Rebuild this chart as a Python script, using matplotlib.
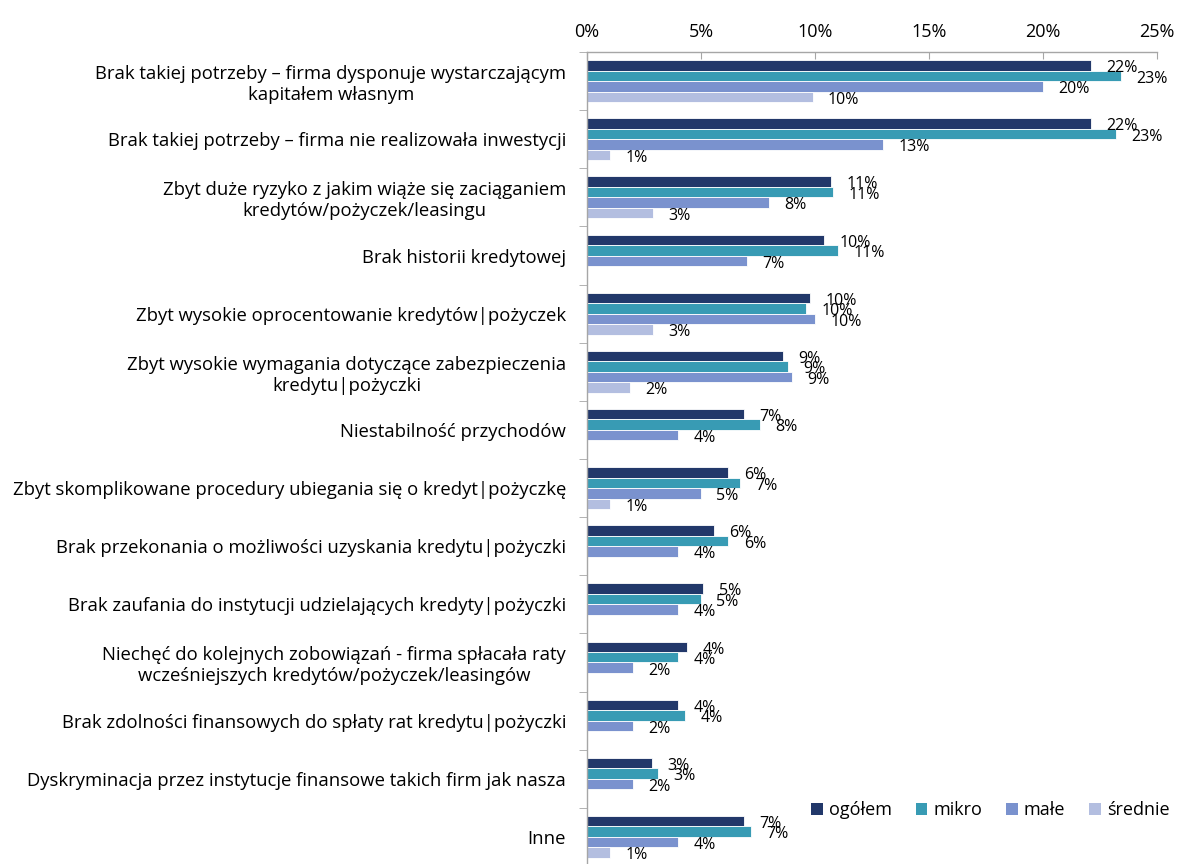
import numpy as np
import matplotlib
matplotlib.use("Agg")
import matplotlib.pyplot as plt
from matplotlib.patches import Patch

plt.rcParams['font.family'] = ['Open Sans', 'DejaVu Sans']

categories = [
    "Brak takiej potrzeby – firma dysponuje wystarczającym\nkapitałem własnym",
    "Brak takiej potrzeby – firma nie realizowała inwestycji",
    "Zbyt duże ryzyko z jakim wiąże się zaciąganiem\nkredytów/pożyczek/leasingu",
    "Brak historii kredytowej",
    "Zbyt wysokie oprocentowanie kredytów|pożyczek",
    "Zbyt wysokie wymagania dotyczące zabezpieczenia\nkredytu|pożyczki",
    "Niestabilność przychodów",
    "Zbyt skomplikowane procedury ubiegania się o kredyt|pożyczkę",
    "Brak przekonania o możliwości uzyskania kredytu|pożyczki",
    "Brak zaufania do instytucji udzielających kredyty|pożyczki",
    "Niechęć do kolejnych zobowiązań - firma spłacała raty\nwcześniejszych kredytów/pożyczek/leasingów",
    "Brak zdolności finansowych do spłaty rat kredytu|pożyczki",
    "Dyskryminacja przez instytucje finansowe takich firm jak nasza",
    "Inne",
]

series_names = ["ogółem", "mikro", "małe", "średnie"]
ogolem  = [22.1, 22.1, 10.7, 10.4, 9.8, 8.6, 6.9, 6.2, 5.55, 5.1, 4.4, 4.0, 2.85, 6.9]
mikro   = [23.4, 23.2, 10.8, 11.0, 9.6, 8.8, 7.6, 6.7, 6.2, 5.0, 4.0, 4.3, 3.1, 7.2]
male    = [20.0, 13.0, 8.0, 7.0, 10.0, 9.0, 4.0, 5.0, 4.0, 4.0, 2.0, 2.0, 2.0, 4.0]
srednie = [9.9, 1.0, 2.9, np.nan, 2.9, 1.9, np.nan, 1.0, np.nan, np.nan, np.nan, np.nan, np.nan, 1.0]

colors = ["#22386A", "#389BB4", "#7A92CE", "#B3BEE0"]
x_ticks = [0, 5, 10, 15, 20, 25]

fig = plt.figure(figsize=(11.8, 8.64), dpi=100)
ax = fig.add_axes([0.4975, -0.0023, 0.483, 0.9421])

n = len(categories)
y = np.arange(n)
bar_h = 0.18
offsets = [-1.5 * bar_h, -0.5 * bar_h, 0.5 * bar_h, 1.5 * bar_h]

for vals, off, col in zip([ogolem, mikro, male, srednie], offsets, colors):
    vals = np.array(vals, dtype=float)
    mask = ~np.isnan(vals)
    ax.barh(y[mask] + off, vals[mask], height=bar_h, color=col,
            edgecolor="white", linewidth=0.6)
    for yi, v in zip(y[mask] + off, vals[mask]):
        ax.annotate(f"{int(round(v))}%", xy=(v, yi), xytext=(11, -2),
                    textcoords="offset points", ha="left", va="center",
                    fontsize=11.5, color="black")

ax.set_xlim(0, 25)
ax.set_ylim(n - 0.5, -0.5)
ax.xaxis.tick_top()
ax.set_xticks(x_ticks)
ax.set_xticklabels([f"{t}%" for t in x_ticks], fontsize=13)
ax.tick_params(axis="x", direction="in", length=5, color="#A6A6A6", pad=8)

ax.set_yticks(y)
ax.set_yticklabels(categories, fontsize=13.3)
for lbl in ax.get_yticklabels():
    lbl.set_multialignment("center")
ax.set_yticks(np.arange(n + 1) - 0.5, minor=True)
ax.tick_params(axis="y", which="major", length=0, pad=15)
ax.tick_params(axis="y", which="minor", length=6, direction="out", color="#A6A6A6")

for side in ["right", "bottom"]:
    ax.spines[side].set_visible(False)
for side in ["top", "left"]:
    ax.spines[side].set_color("#A6A6A6")
    ax.spines[side].set_linewidth(1.0)

handles = [Patch(facecolor=c, edgecolor="none") for c in colors]
fig.legend(handles, series_names, loc="center right",
           bbox_to_anchor=(1.005, 1 - 810 / 864), ncol=4, frameon=False,
           fontsize=13, handlelength=0.65, handleheight=0.65,
           handletextpad=0.35, columnspacing=1.3)

fig.savefig("out.png", dpi=100)
